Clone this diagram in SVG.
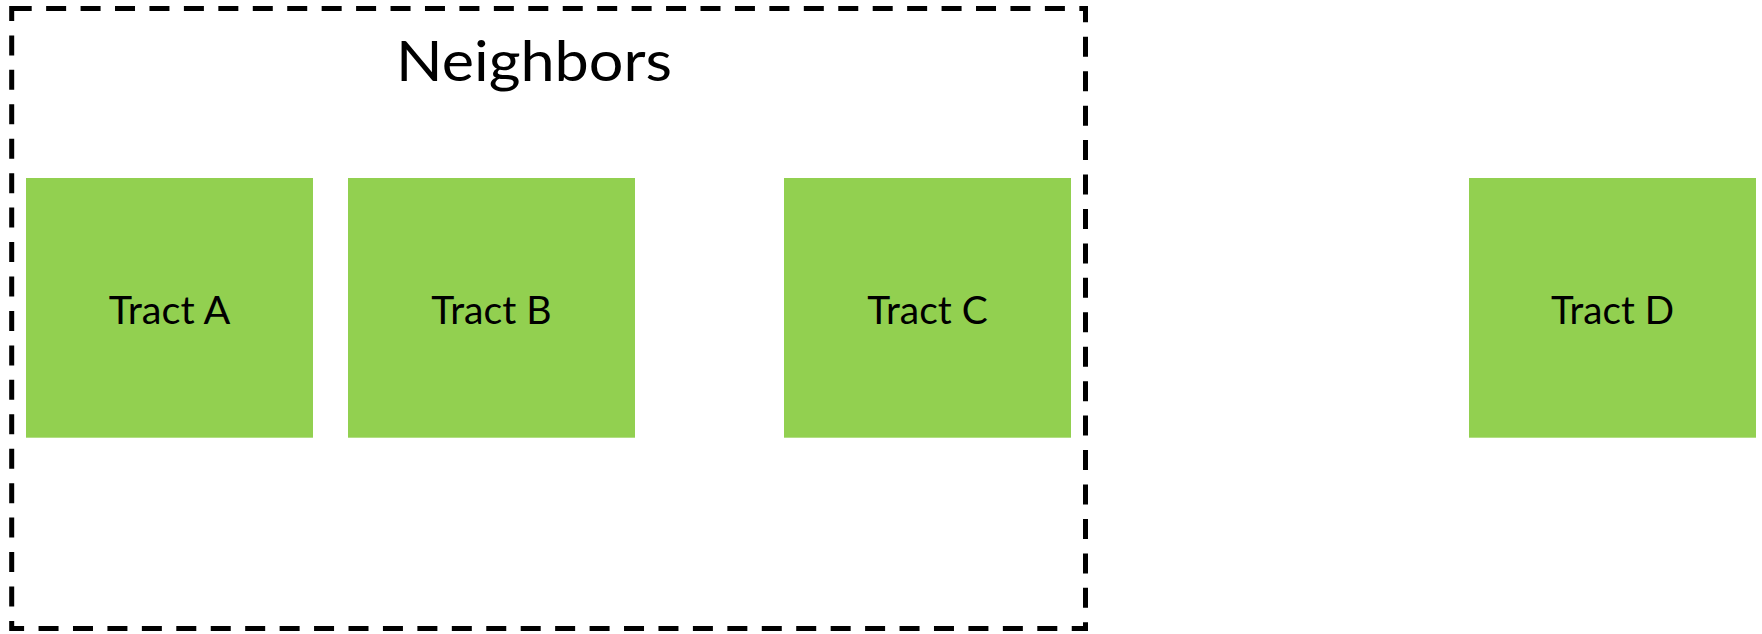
<svg xmlns="http://www.w3.org/2000/svg" width="1762" height="634" viewBox="0 0 1762 634">
<style>
.tract{fill:#92D050;}
.lbl{font-family:Lato,"Open Sans",sans-serif;font-size:39.5px;fill:#000;text-anchor:middle;}
.title{font-family:Lato,"Open Sans",sans-serif;font-size:56px;fill:#000;text-anchor:middle;}
.border{fill:none;stroke:#000;stroke-width:5;stroke-dasharray:20 14.44;}
</style>
<rect width="1762" height="634" fill="#fff"/>
<g id="neighbors">
<rect class="border" x="11.7" y="8.5" width="1073.8" height="620"/>
<text class="title" x="534" y="80.7" textLength="276" lengthAdjust="spacingAndGlyphs">Neighbors</text>
</g>
<g id="tract-a">
<rect class="tract" x="26" y="178" width="287" height="259.7"/>
<text class="lbl" x="169.5" y="324" textLength="121.7" lengthAdjust="spacingAndGlyphs">Tract A</text>
</g>
<g id="tract-b">
<rect class="tract" x="348" y="178" width="287" height="259.7"/>
<text class="lbl" x="491.5" y="324" textLength="120.3" lengthAdjust="spacingAndGlyphs">Tract B</text>
</g>
<g id="tract-c">
<rect class="tract" x="784" y="178" width="287" height="259.7"/>
<text class="lbl" x="927.5" y="324" textLength="120.4" lengthAdjust="spacingAndGlyphs">Tract C</text>
</g>
<g id="tract-d">
<rect class="tract" x="1469" y="178" width="287" height="259.7"/>
<text class="lbl" x="1612.5" y="324" textLength="123" lengthAdjust="spacingAndGlyphs">Tract D</text>
</g>
<g id="connectors"></g>
</svg>
